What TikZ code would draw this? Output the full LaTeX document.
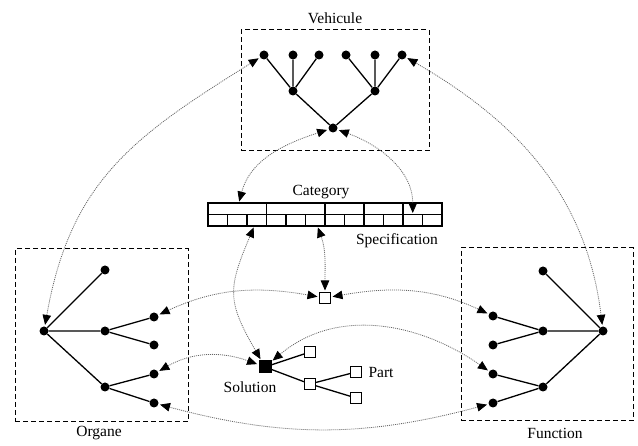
\documentclass[tikz,border=0pt]{standalone}
\usepackage{fontspec}
\setmainfont{Liberation Serif}
\usetikzlibrary{positioning,arrows.meta}

\begin{document}
\begin{tikzpicture}[x=1pt,y=-1pt,
  leaf/.style={circle,fill,inner sep=0pt,minimum size=9pt},
  partsq/.style={rectangle,draw,fill=white,line width=1pt,inner sep=0pt,minimum size=11pt},
  cell/.style={rectangle,draw,line width=1.4pt,inner sep=0pt,outer sep=0pt,minimum height=11.5pt,minimum width=19.5pt*#1},
  cell/.default=1,
  zone/.style={rectangle,draw,dash pattern=on 5pt off 3pt,line width=1pt,inner sep=0pt},
  branch/.style={line width=1.3pt},
  assoc/.style={{Triangle[length=10pt,width=8.5pt,color=black]}-{Triangle[length=10pt,width=8.5pt,color=black]},
    black!60,line width=0.8pt,dash pattern=on 1pt off 1pt,shorten <=1.5pt,shorten >=1.5pt},
  lbl/.style={font=\fontsize{15.5}{18}\selectfont,anchor=base},
]
\useasboundingbox (0,0) rectangle (638,446);

% Vehicule tree
\node[zone,minimum width=188pt,minimum height=121pt] (vbox) at (335,90.5) {};
\node[lbl] (vname) at (335,24) {Vehicule};
\node[leaf] (v0) at (333,128) {};
\node[leaf] (va) at (293,91) {};
\node[leaf] (vb) at (375,91) {};
\foreach \x [count=\i] in {264,293,319,346,375,402}
  \node[leaf] (v\i) at (\x,55) {};
\draw[branch] (v0) -- (va) (v0) -- (vb)
  (va) -- (v1) (va) -- (v2) (va) -- (v3)
  (vb) -- (v4) (vb) -- (v5) (vb) -- (v6);

% Category / Specification table
\node[cell=3] (c1) at (237.25,208.75) {};
\node[cell=3] (c2) at (295.75,208.75) {};
\node[cell=2] (c3) at (344.5,208.75) {};
\node[cell=2] (c4) at (383.5,208.75) {};
\node[cell=2] (c5) at (422.5,208.75) {};
\foreach \i in {1,...,12}
  \node[cell] (s\i) at ({198.25+19.5*\i},220.25) {};
\node[lbl] (cname) at (321,196) {Category};
\node[lbl] (sname) at (397,245) {Specification};

% Organe tree
\node[zone,minimum width=173pt,minimum height=173pt] (obox) at (101.5,335.5) {};
\node[lbl] (oname) at (99,437) {Organe};
\node[leaf] (o0) at (44,331) {};
\node[leaf] (ot) at (105,270) {};
\node[leaf] (om) at (105,331) {};
\node[leaf] (ol) at (105,387) {};
\node[leaf] (oc1) at (154,317) {};
\node[leaf] (oc2) at (154,345) {};
\node[leaf] (oc3) at (154,374) {};
\node[leaf] (oc4) at (154,403) {};
\draw[branch] (o0) -- (ot) (o0) -- (om) (o0) -- (ol)
  (om) -- (oc1) (om) -- (oc2) (ol) -- (oc3) (ol) -- (oc4);

% Function tree
\node[zone,minimum width=172pt,minimum height=173pt] (fbox) at (547,334.5) {};
\node[lbl] (fname) at (555,439) {Function};
\node[leaf] (f0) at (603,331) {};
\node[leaf] (ft) at (543,271) {};
\node[leaf] (fm) at (543,331) {};
\node[leaf] (fl) at (543,387) {};
\node[leaf] (fc1) at (493,316) {};
\node[leaf] (fc2) at (493,345) {};
\node[leaf] (fc3) at (493,374) {};
\node[leaf] (fc4) at (493,403) {};
\draw[branch] (f0) -- (ft) (f0) -- (fm) (f0) -- (fl)
  (fm) -- (fc1) (fm) -- (fc2) (fl) -- (fc3) (fl) -- (fc4);

% Solution and parts
\node[partsq] (spec) at (325,298) {};
\node[partsq,fill=black,minimum size=12pt] (sol) at (265,367) {};
\node[partsq] (p1) at (310,352) {};
\node[partsq] (p2) at (310,384) {};
\node[partsq] (p3) at (356,372) {};
\node[partsq] (p4) at (356,398) {};
\draw[branch] (sol) -- (p1) (sol) -- (p2) (p2) -- (p3) (p2) -- (p4);
\node[lbl] (solname) at (250,393) {Solution};
\node[lbl] (pname) at (381,378) {Part};

% Dotted associations
\draw[assoc] (o0) to[out=80,in=-148,looseness=1.1] (v1);
\draw[assoc] (f0) to[out=97,in=-30] (v6);
\draw[assoc] (v0) to[out=198,in=75] (c1);
\draw[assoc] (v0) to[out=-20,in=90] (s11);
\draw[assoc] (sol) to[out=120,in=-113,looseness=1.3] (s3);
\draw[assoc] (s6) to[out=-70,in=90] (spec);
\draw[assoc] (oc1) to[out=25,in=170] (spec);
\draw[assoc] (spec) to[out=10,in=155] (fc1);
\draw[assoc] (oc3) to[out=30,in=160] (sol);
\draw[assoc] (sol) to[out=40,in=145] (fc3);
\draw[assoc] (oc4) to[out=-15,in=-165] (fc4);
\end{tikzpicture}
\end{document}
